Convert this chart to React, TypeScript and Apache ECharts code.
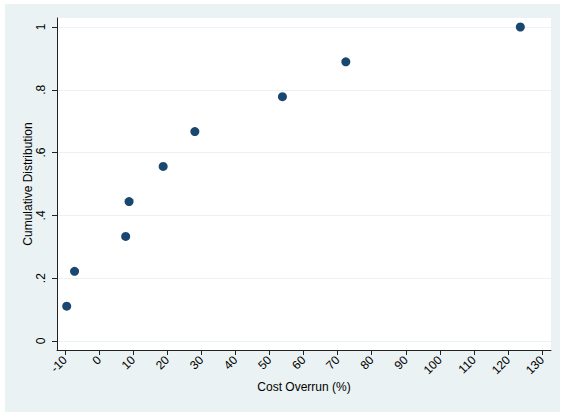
import React, { useEffect, useRef } from "react";
import * as echarts from "echarts";

const overrunPct = [-9.5, -7.2, 7.8, 8.8, 18.8, 28.1, 53.8, 72.4, 123.6];
const cumDist = [0.111, 0.222, 0.333, 0.444, 0.556, 0.667, 0.778, 0.889, 1.0];
const xTickValues = [-10, 0, 10, 20, 30, 40, 50, 60, 70, 80, 90, 100, 110, 120, 130];
const xTickLabels = ["-10", "0", "10", "20", "30", "40", "50", "60", "70", "80", "90", "100", "110", "120", "130"];
const yTickValues = [0, 0.2, 0.4, 0.6, 0.8, 1];
const yTickLabels = ["0", ".2", ".4", ".6", ".8", "1"];

export default function App() {
  const ref = useRef<HTMLDivElement>(null);
  useEffect(() => {
    if (!ref.current) return;
    const chart = echarts.init(ref.current, null, { renderer: "svg" });
    const font = "'Liberation Sans', Arial, sans-serif";
    const axisColor = "#222";
    const data = overrunPct.map((x, i) => [x, cumDist[i]]);
    chart.setOption({
      animation: false,
      backgroundColor: "#eaf2f3",
      textStyle: { fontFamily: font },
      grid: {
        left: 52,
        top: 14,
        width: 494,
        height: 332,
        show: true,
        backgroundColor: "#ffffff",
        borderWidth: 0,
      },
      xAxis: {
        type: "value",
        min: -12.35,
        max: 132.6,
        name: "Cost Overrun (%)",
        nameLocation: "middle",
        nameGap: 31,
        nameMoveOverlap: false,
        nameTextStyle: { fontFamily: font, fontSize: 12, color: "#000" },
        axisLine: { show: true, onZero: false, lineStyle: { color: axisColor, width: 1 } },
        axisTick: { show: true, length: 5, lineStyle: { color: axisColor }, customValues: xTickValues },
        axisLabel: {
          customValues: xTickValues,
          rotate: 45,
          margin: 8,
          fontFamily: font,
          fontSize: 12,
          color: "#000",
          formatter: (v: number) => {
            const i = xTickValues.findIndex((t) => Math.abs(t - v) < 1e-6);
            return i >= 0 ? xTickLabels[i] : "";
          },
        },
        splitLine: { show: false },
      },
      yAxis: {
        type: "value",
        min: -0.0287,
        max: 1.0287,
        name: "Cumulative Distribution",
        nameLocation: "middle",
        nameGap: 23,
        nameMoveOverlap: false,
        nameTextStyle: { fontFamily: font, fontSize: 12, color: "#000" },
        axisLine: { show: true, onZero: false, lineStyle: { color: axisColor, width: 1 } },
        axisTick: { show: true, length: 5, lineStyle: { color: axisColor }, customValues: yTickValues },
        axisLabel: {
          customValues: yTickValues,
          rotate: 90,
          margin: 10,
          fontFamily: font,
          fontSize: 12,
          color: "#000",
          formatter: (v: number) => {
            const i = yTickValues.findIndex((t) => Math.abs(t - v) < 1e-6);
            return i >= 0 ? yTickLabels[i] : "";
          },
        },
        splitLine: { show: true, lineStyle: { color: "#eaf2f3", width: 1 } },
      },
      series: [
        {
          type: "scatter",
          data,
          symbol: "circle",
          symbolSize: 9,
          itemStyle: { color: "#1a476f", opacity: 1 },
        },
      ],
    });
    return () => chart.dispose();
  }, []);
  return (
    <div style={{ position: "fixed", left: 0, top: 0, width: 562, height: 412, background: "#ffffff" }}>
      <div ref={ref} style={{ position: "absolute", left: 5, top: 4, width: 555, height: 408 }} />
    </div>
  );
}
